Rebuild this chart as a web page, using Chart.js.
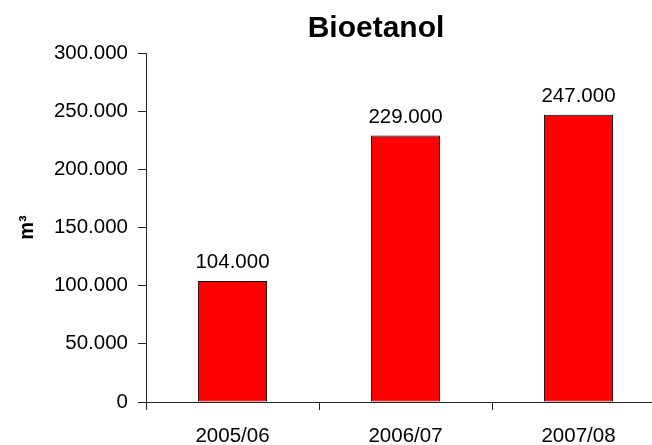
<!DOCTYPE html>
<html>
<head>
<meta charset="utf-8">
<script src="https://cdn.jsdelivr.net/npm/chart.js@4/dist/chart.umd.min.js"></script>
<style>
  html, body { margin: 0; padding: 0; background: #fff; overflow: hidden; }
  #wrap { position: relative; width: 680px; height: 445px; }
</style>
</head>
<body>
<div id="wrap"><canvas id="c"></canvas></div>
<script>
const chartTitle = 'Bioetanol';
const yAxisTitle = 'm³';
const categories = ['2005/06', '2006/07', '2007/08'];
const values = [104000, 229000, 247000];
const yMin = 0;
const yMax = 300000;
const yStep = 50000;

const FONT = '"Liberation Sans", Arial, sans-serif';

function fmt(v) {
  return String(Math.round(v)).replace(/\B(?=(\d{3})+(?!\d))/g, '.');
}

const titlePlugin = {
  id: 'customTitle',
  afterDraw(chart) {
    const ctx = chart.ctx;
    ctx.save();
    ctx.font = 'bold 30px ' + FONT;
    ctx.fillStyle = '#000';
    ctx.textAlign = 'center';
    ctx.textBaseline = 'alphabetic';
    ctx.fillText(chartTitle, 376, 37);
    ctx.restore();
  }
};

const labelPlugin = {
  id: 'barLabels',
  afterDatasetsDraw(chart) {
    const ctx = chart.ctx;
    const meta = chart.getDatasetMeta(0);
    ctx.save();
    ctx.font = '20.5px ' + FONT;
    ctx.fillStyle = '#000';
    ctx.textAlign = 'center';
    ctx.textBaseline = 'alphabetic';
    meta.data.forEach((bar, i) => {
      ctx.fillText(fmt(chart.data.datasets[0].data[i]), bar.x, bar.y - 13);
    });
    ctx.restore();
  }
};

new Chart(document.getElementById('c'), {
  type: 'bar',
  data: {
    labels: categories,
    datasets: [{
      data: values,
      backgroundColor: '#FF0000',
      borderColor: '#000',
      borderWidth: 1,
      borderSkipped: false,
      barPercentage: 0.4,
      categoryPercentage: 1
    }]
  },
  options: {
    responsive: true,
    maintainAspectRatio: false,
    animation: false,
    layout: { padding: { top: 53, right: 15, left: 0, bottom: 0 } },
    plugins: {
      legend: { display: false },
      title: { display: false },
      tooltip: { enabled: false }
    },
    scales: {
      x: {
        grid: {
          display: true,
          drawOnChartArea: false,
          drawTicks: true,
          tickLength: 8,
          color: '#222',
          offset: true
        },
        border: { display: true, color: '#222', width: 1 },
        ticks: {
          color: '#000',
          font: { family: FONT, size: 20.5 },
          padding: 14,
          maxRotation: 0
        },
        afterFit(scale) { scale.height = 43; }
      },
      y: {
        min: yMin,
        max: yMax,
        grid: {
          display: true,
          drawOnChartArea: false,
          drawTicks: true,
          tickLength: 8,
          color: '#222'
        },
        border: { display: true, color: '#222', width: 1 },
        ticks: {
          stepSize: yStep,
          color: '#000',
          font: { family: FONT, size: 20.5 },
          padding: 10,
          callback: (v) => fmt(v)
        },
        title: {
          display: true,
          text: yAxisTitle,
          color: '#000',
          font: { family: FONT, size: 20, weight: 'bold' },
          padding: { top: 15, bottom: 0 }
        },
        afterFit(scale) { scale.width = 146; }
      }
    }
  },
  plugins: [titlePlugin, labelPlugin]
});
</script>
</body>
</html>
